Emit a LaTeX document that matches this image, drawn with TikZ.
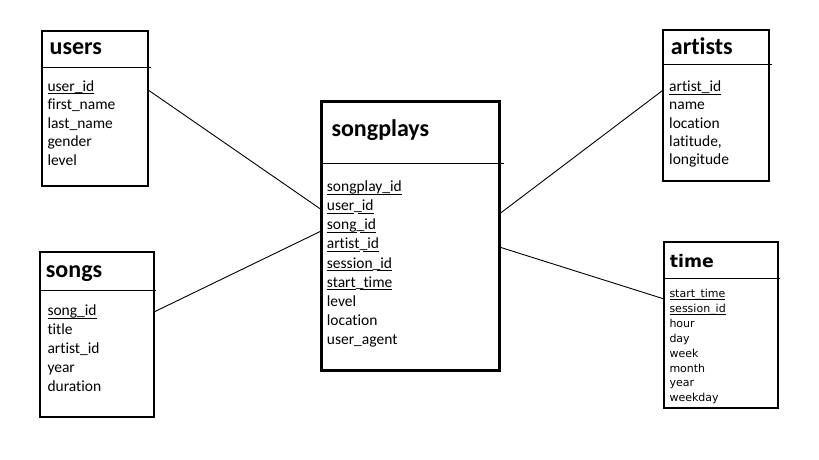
\documentclass[tikz,border=0pt]{standalone}
\usepackage{fontspec}
\setmainfont{Carlito}[Ligatures=NoCommon]
\newfontfamily\timefont{DejaVu Sans}[Ligatures=NoCommon]
\usetikzlibrary{calc}
\newcommand\keyu[1]{\leavevmode\setbox0\hbox{#1}\rlap{\vrule height -.12em depth .185em width \wd0}\box0}
\newcommand\keyv[1]{\leavevmode\setbox0\hbox{#1}\rlap{\kern.25em\vrule height -.12em depth .185em width \dimexpr\wd0-.25em\relax}\box0}
\newcommand\fk[2]{\keyu{#1}\keyv{\_#2}}
\tikzset{
  tbl/.style={draw=black, line width=2pt, inner sep=0pt, outer sep=0pt, anchor=north west},
  bigtbl/.style={tbl, line width=3pt},
  sepline/.style={draw=black, line width=1pt},
  conn/.style={draw=black, line width=0.9pt},
  hdr/.style={anchor=base west, inner sep=0pt, font=\fontsize{24}{24}\selectfont\bfseries},
  thdr/.style={anchor=base west, inner sep=0pt, font=\timefont\fontsize{17.3}{17.3}\selectfont\bfseries},
  rowtxt/.style={anchor=base west, inner sep=0pt, font=\fontsize{15.5}{19}\selectfont},
  trow/.style={anchor=base west, inner sep=0pt, font=\timefont\fontsize{11}{14}\selectfont},
}
\begin{document}
\begin{tikzpicture}[x=1pt,y=-1pt]
\useasboundingbox[fill=white] (0,0) rectangle (819,460);
% boxes
\node[tbl, minimum width=106pt, minimum height=155.3pt] (users) at (42.2,31) {};
\node[tbl, minimum width=113.7pt, minimum height=164.7pt] (songs) at (40.3,252) {};
\node[bigtbl, minimum width=178.1pt, minimum height=269pt] (songplays) at (321.2,101) {};
\node[tbl, minimum width=106pt, minimum height=151.2pt] (artists) at (663.2,30) {};
\node[tbl, minimum width=114.1pt, minimum height=165.8pt] (time) at (664.2,242) {};
% header separators
\draw[sepline] ($(users.north west)+(0,36.3)$) -- ++(108.5,0);
\draw[sepline] ($(songs.north west)+(0,38.7)$) -- ++(115.7,0);
\draw[sepline] ($(songplays.north west)+(0,62.3)$) -- ++(182.8,0);
\draw[sepline] ($(artists.north west)+(0,35)$) -- ++(108.5,0);
\draw[sepline] ($(time.north west)+(0,36.3)$) -- ++(115.8,0);
% titles
\node[hdr] (users-t) at (49.5,55) {users};
\node[hdr] (songs-t) at (45.7,277.7) {songs};
\node[hdr] (songplays-t) at (331.3,136.7) {songplays};
\node[hdr] (artists-t) at (670.7,54.3) {artists};
\node[thdr] (time-t) at (669.7,267.7) {time};
% rows
\foreach \t [count=\i from 0] in {{\keyu{user\_id}},first\_name,last\_name,gender,level}
  \node[rowtxt] (users-\i) at (47.3,91+18.6*\i) {\t};
\foreach \t [count=\i from 0] in {{\keyu{song\_id}},title,artist\_id,year,duration}
  \node[rowtxt] (songs-\i) at (47.3,315.7+19*\i) {\t};
\foreach \t [count=\i from 0] in {{\keyu{songplay\_id}},{\fk{user}{id}},{\fk{song}{id}},{\fk{artist}{id}},{\fk{session}{id}},{\fk{start}{time}},level,location,user\_agent}
  \node[rowtxt] (songplays-\i) at (326.7,191.7+19.08*\i) {\t};
\foreach \t [count=\i from 0] in {{\keyu{artist\_id}},name,location,{latitude,},longitude}
  \node[rowtxt] (artists-\i) at (669,91.7+18.3*\i) {\t};
\foreach \t [count=\i from 0] in {{\keyu{start\_time}},{\keyu{session\_id}},hour,day,week,month,year,weekday}
  \node[trow] (time-\i) at (669.3,297.7+14.86*\i) {\t};
% connectors
\draw[conn] ($(users.north east)+(0,59)$) -- ($(songplays.north west)+(0,108.5)$);
\draw[conn] ($(songs.north east)+(0,60)$) -- ($(songplays.north west)+(0,130)$);
\draw[conn] ($(artists.north west)+(0,60)$) -- ($(songplays.north east)+(0,113)$);
\draw[conn] ($(time.north west)+(0,57)$) -- ($(songplays.north east)+(0,146)$);
\end{tikzpicture}
\end{document}
